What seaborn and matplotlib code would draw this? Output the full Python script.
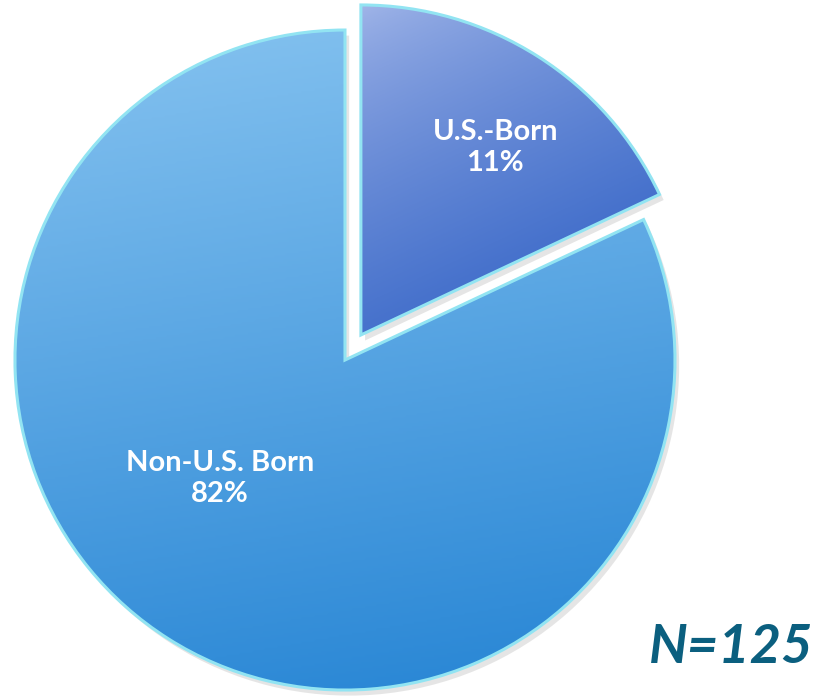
import numpy as np
import matplotlib
matplotlib.use("Agg")
import matplotlib.pyplot as plt
import matplotlib.patheffects as pe
from matplotlib.colors import LinearSegmentedColormap
from matplotlib.patches import PathPatch
import seaborn as sns

# data
categories = ["U.S.-Born", "Non-U.S. Born"]
pct_labels = ["11%", "82%"]
wedge_shares = [18, 82]          # angular size as drawn in the reference
explode = [0.09, 0.0]
sample_label = "N=125"

light_cols = ["#a3b7e9", "#86c3f0"]
dark_cols = ["#2c5ec4", "#2584d4"]
edge_col = "#92e4f2"


def main():
    sns.set_theme(style="white")
    plt.rcParams["font.family"] = ["Lato", "DejaVu Sans"]

    fig = plt.figure(figsize=(8.19, 6.96), dpi=100)
    ax = fig.add_axes([0, 0, 1, 1])

    wedges, _ = ax.pie(wedge_shares, explode=explode, startangle=90,
                       counterclock=False, radius=1.0,
                       colors=[c for c in dark_cols],
                       wedgeprops=dict(linewidth=0))
    ax.set_aspect("equal")
    ax.axis("off")

    # gradient fill, clipped to each wedge (light at top, dark at bottom)
    gx, gy = np.meshgrid(np.linspace(0, 1, 300), np.linspace(0, 1, 300))
    mixes = [(0.3, 0.7, 0.7), (0.15, 0.85, 1.0)]
    for i, w in enumerate(wedges):
        w.set_path_effects([pe.SimplePatchShadow(offset=(3, -4), shadow_rgbFace="0.5", alpha=0.2),
                            pe.Normal()])
        w.set_zorder(1)
        cmap = LinearSegmentedColormap.from_list(f"g{i}", [light_cols[i], dark_cols[i]])
        wx, wy, gam = mixes[i]
        grad = (gx * wx + gy * wy) ** gam
        bb = w.get_path().get_extents(w.get_transform() - ax.transData)
        img = ax.imshow(grad, cmap=cmap, origin="upper", vmin=0, vmax=1,
                        extent=[bb.x0, bb.x1, bb.y0, bb.y1], zorder=2,
                        interpolation="bilinear")
        img.set_clip_path(w)
        outline = PathPatch(w.get_path(), transform=w.get_transform(),
                            facecolor="none", edgecolor=edge_col, linewidth=2.2,
                            zorder=3)
        ax.add_patch(outline)

    ax.set_xlim(-1.045, 1.436)
    ax.set_ylim(-1.018, 1.091)

    text_pos = [(0.455, 0.645), (-0.379, -0.36)]
    for (x, y), name, pct in zip(text_pos, categories, pct_labels):
        ax.text(x, y, f"{name}\n{pct}", ha="center", va="center", color="white",
                fontsize=21, fontweight="bold", linespacing=1.25, zorder=5)

    ax.text(1.42, -0.87, sample_label, ha="right", va="center", color="#0b5f7f",
            fontsize=39, fontweight="bold", fontstyle="italic", zorder=5)

    plt.savefig("out.png", dpi=100)
    plt.close()


if __name__ == "__main__":
    main()
